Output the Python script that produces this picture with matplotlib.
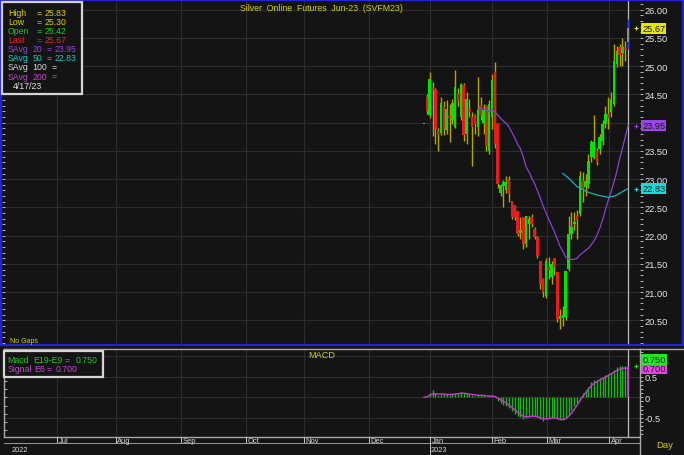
import matplotlib
matplotlib.use("Agg")
import matplotlib.pyplot as plt
from matplotlib.patches import Rectangle
from matplotlib.ticker import MultipleLocator, FixedLocator, FuncFormatter
import matplotlib.transforms as mtransforms

plt.rcParams['font.family'] = ['Liberation Sans', 'DejaVu Sans']

# ---------------- data ----------------
opens = [23.97, 24.45, 24.13, 24.62, 24.60, 23.85, 23.82, 24.27, 23.87, 24.12,
         24.04, 23.93, 24.50, 24.10, 24.67, 23.80, 24.25, 24.10, 24.13, 23.92,
         24.30, 24.00, 24.30, 23.50, 24.10, 24.90, 23.98, 22.75, 22.88, 22.80,
         22.98, 22.62, 22.55, 22.44, 22.05, 22.33, 21.85, 22.20, 22.33, 22.12,
         21.98, 21.56, 21.23, 20.94, 21.45, 21.27, 21.60, 21.36, 20.53, 20.55,
         20.56, 21.41, 22.03, 22.20, 22.35, 22.38, 22.97, 22.86, 22.91, 23.39,
         23.37, 23.50, 23.53, 23.68, 23.97, 24.15, 24.19, 24.33, 25.04, 25.34,
         25.23, 25.32, 25.42]
highs = [23.97, 24.50, 24.89, 24.72, 24.62, 23.90, 24.46, 24.38, 24.40, 24.33,
         24.42, 24.94, 24.62, 24.70, 24.70, 24.55, 24.42, 24.19, 24.16, 24.81,
         24.45, 24.33, 24.32, 24.40, 24.86, 25.07, 24.00, 22.91, 22.99, 23.05,
         23.05, 22.62, 22.55, 22.44, 22.33, 22.33, 22.35, 22.35, 22.38, 22.15,
         22.00, 21.56, 21.25, 21.60, 21.62, 21.55, 21.60, 21.36, 20.70, 20.75,
         21.38, 22.35, 22.42, 22.42, 22.45, 23.15, 23.12, 23.10, 23.45, 23.70,
         24.13, 23.55, 23.80, 24.05, 24.30, 24.45, 24.55, 25.39, 25.36, 25.40,
         25.50, 25.45, 25.83]
lows = [23.97, 24.15, 24.08, 23.76, 23.62, 23.50, 23.78, 23.78, 23.80, 23.66,
        23.98, 23.90, 24.30, 24.05, 23.68, 23.62, 24.10, 23.23, 23.80, 23.76,
        24.05, 23.80, 23.50, 23.45, 23.89, 23.55, 22.85, 22.71, 22.50, 22.75,
        22.60, 22.30, 22.27, 21.99, 21.95, 21.76, 21.80, 21.95, 22.15, 21.95,
        21.60, 21.05, 20.91, 20.90, 21.23, 21.15, 21.30, 20.47, 20.35, 20.40,
        20.50, 21.38, 21.95, 22.10, 21.94, 22.35, 22.60, 22.70, 22.85, 23.30,
        23.35, 23.25, 23.45, 23.60, 23.90, 23.89, 24.10, 24.30, 24.98, 25.00,
        25.00, 25.10, 25.30]
closes = [23.97, 24.20, 24.77, 24.58, 23.89, 23.80, 24.35, 23.89, 24.25, 24.08,
          24.35, 24.63, 24.38, 24.68, 23.78, 24.42, 24.20, 23.93, 23.98, 24.22,
          24.13, 24.22, 23.59, 24.33, 24.75, 23.62, 22.91, 22.90, 22.95, 22.95,
          22.74, 22.33, 22.33, 22.03, 22.10, 21.86, 22.35, 22.30, 22.20, 21.98,
          21.64, 21.14, 21.00, 21.56, 21.40, 21.50, 21.45, 20.53, 20.58, 20.60,
          21.38, 22.03, 22.15, 22.25, 22.27, 23.06, 22.80, 22.97, 23.33, 23.66,
          23.66, 23.30, 23.75, 23.98, 24.15, 24.09, 24.42, 25.10, 25.27, 25.19,
          25.34, 25.30, 25.67]

sma20_start = 19
sma20 = [24.24, 24.25, 24.25, 24.22, 24.20, 24.22, 24.19, 24.14, 24.08, 24.03,
         23.99, 23.92, 23.83, 23.73, 23.62, 23.54, 23.40, 23.22, 23.13, 23.02,
         22.92, 22.80, 22.67, 22.53, 22.41, 22.29, 22.18, 22.07, 21.94, 21.81,
         21.72, 21.62, 21.59, 21.58, 21.58, 21.60, 21.66, 21.70, 21.74, 21.78,
         21.84, 21.91, 22.01, 22.13, 22.28, 22.46, 22.63, 22.78, 22.95, 23.13,
         23.36, 23.55, 23.75, 23.95]
sma50_start = 49
sma50 = [23.10, 23.06, 23.02, 22.97, 22.92, 22.87, 22.84, 22.82, 22.79, 22.77,
         22.75, 22.74, 22.72, 22.71, 22.70, 22.69, 22.68, 22.69, 22.70, 22.72,
         22.75, 22.78, 22.81, 22.83]

macd = [0.00, 0.02, 0.10, 0.17, 0.10, 0.06, 0.09, 0.07, 0.08, 0.06,
        0.08, 0.10, 0.10, 0.13, 0.10, 0.10, 0.08, 0.05, 0.04, 0.05,
        0.06, 0.05, 0.01, 0.02, 0.05, 0.02, -0.10, -0.15, -0.18, -0.22,
        -0.27, -0.34, -0.40, -0.46, -0.48, -0.52, -0.50, -0.48, -0.46, -0.46,
        -0.48, -0.53, -0.57, -0.52, -0.50, -0.50, -0.48, -0.52, -0.55, -0.55,
        -0.50, -0.42, -0.32, -0.22, -0.15, -0.02, 0.10, 0.18, 0.26, 0.38,
        0.42, 0.42, 0.46, 0.50, 0.53, 0.56, 0.60, 0.66, 0.73, 0.76,
        0.77, 0.77, 0.75]
signal = [0.00, 0.01, 0.05, 0.08, 0.08, 0.08, 0.08, 0.08, 0.07, 0.07,
          0.07, 0.08, 0.09, 0.10, 0.10, 0.09, 0.08, 0.07, 0.06, 0.05,
          0.05, 0.05, 0.03, 0.03, 0.03, 0.02, -0.02, -0.06, -0.10, -0.14,
          -0.19, -0.24, -0.30, -0.36, -0.41, -0.46, -0.47, -0.47, -0.46, -0.46,
          -0.47, -0.50, -0.52, -0.52, -0.52, -0.51, -0.50, -0.51, -0.53, -0.54,
          -0.52, -0.46, -0.39, -0.29, -0.19, -0.08, 0.02, 0.11, 0.20, 0.28,
          0.34, 0.38, 0.42, 0.46, 0.49, 0.53, 0.57, 0.61, 0.65, 0.68,
          0.70, 0.71, 0.70]

month_labels = ["Jul", "Aug", "Sep", "Oct", "Nov", "Dec", "Jan", "Feb", "Mar", "Apr"]
month_ticks = [-129.5, -108.8, -85.6, -62.9, -42.3, -19.5, 2.1, 23.9, 43.3, 65.4]
year_labels = ["2022", "2023"]
last_date = "4/17/23"
title = "Silver  Online  Futures  Jun-23  (SVFM23)"

# ---------------- style / layout ----------------
W, H = 684, 456
BG = '#141414'
GRID = '#2c2c2c'
WICK = '#b4a400'
UP = '#00e400'
DN = '#e81c1c'
PURPLE = '#8d3fd6'
CYAN = '#16b4b4'
MAG = '#c43cd0'
YEL = '#d2d200'
TXT = '#e6e6e6'
X0, DX = 424.0, 2.835
FS = 6.3


def xl(l, r):
    return ((l - X0) / DX, (r - X0) / DX)


def rect(l, t, r, b):
    return [l / W, 1 - b / H, (r - l) / W, (b - t) / H]


def left_ticks(ax, step):
    tw = ax.twinx()
    tw.set_ylim(ax.get_ylim())
    tw.yaxis.tick_left()
    tw.yaxis.set_major_locator(MultipleLocator(step))
    tw.tick_params(axis='y', direction='in', length=2.5, width=0.6, color='#cfcfcf',
                   labelleft=False, labelright=False)
    tw.patch.set_visible(False)
    for s in tw.spines.values():
        s.set_visible(False)
    return tw


def right_axis(ax, major, minor, fmt):
    ax.yaxis.tick_right()
    ax.yaxis.set_major_locator(major)
    ax.yaxis.set_minor_locator(minor)
    ax.yaxis.set_major_formatter(FuncFormatter(fmt))
    ax.tick_params(axis='y', which='both', direction='out', length=2.2, width=0.6,
                   color='#d0d0d0', labelsize=6.7, labelcolor=TXT, pad=1,
                   left=False, labelleft=False, right=True, labelright=True)


fig = plt.figure(figsize=(W / 100, H / 100), dpi=100, facecolor=BG)
n = len(opens)
idx = list(range(n))
box_vals = [closes[-1], sma20[-1], sma50[-1]]

# ---------------- price panel ----------------
ax1 = fig.add_axes(rect(2, 2, 640, 345), facecolor=BG)
ax1.set_xlim(*xl(2, 640))
ax1.set_ylim(20.083, 26.154)
left_ticks(ax1, 0.1)
for s in ax1.spines.values():
    s.set_visible(False)
ax1.set_xticks(month_ticks)
ax1.tick_params(axis='x', length=0, labelbottom=False)


def price_fmt(v, _):
    # a value box sitting on a tick level hides that tick's label
    if any(abs(v - b) < 0.09 for b in box_vals):
        return ''
    return f"{v:.2f}"


right_axis(ax1, MultipleLocator(0.5), MultipleLocator(0.1), price_fmt)
ax1.grid(True, which='major', color=GRID, lw=0.8)
ax1.set_axisbelow(True)

ax1.axvline(n - 1, color='#bdbdbd', lw=0.9, zorder=2.6)

for i in idx:
    last = (i == n - 1)
    ax1.vlines(i, lows[i], highs[i], color=('#2a3cff' if last else WICK), lw=1.0, zorder=3)
    lo, hi = min(opens[i], closes[i]), max(opens[i], closes[i])
    if last:
        col = '#8c8c8c'
    elif closes[i] > opens[i]:
        col = UP
    elif closes[i] < opens[i]:
        col = DN
    else:
        col = WICK
    ax1.add_patch(Rectangle((i - 0.45, lo), 0.9, max(hi - lo, 0.018),
                            facecolor=col, edgecolor='none', zorder=4))

ax1.plot(range(sma20_start, sma20_start + len(sma20)), sma20, color=PURPLE, lw=0.9, zorder=5)
ax1.plot(range(sma50_start, sma50_start + len(sma50)), sma50, color=CYAN, lw=0.9, zorder=5)

ytr = ax1.get_yaxis_transform()
for val, bg in zip(box_vals, ['#e6e600', '#9848e0', '#10dede']):
    ax1.text(1.0035, val, f"{val:.2f}", transform=ytr, fontsize=6.7, color='#1a1a1a',
             ha='left', va='center', clip_on=False, zorder=20,
             bbox=dict(boxstyle='square,pad=0.12', facecolor=bg, edgecolor='none'))
    ax1.plot([n + 1.9], [val], marker='+', ms=3, mew=0.8, color=bg, clip_on=False, zorder=6)

# ---------------- MACD panel ----------------
ax2 = fig.add_axes(rect(4, 349.5, 640, 437.7), facecolor=BG)
ax2.set_xlim(*xl(4, 640))
ax2.set_ylim(-0.956, 1.184)
left_ticks(ax2, 0.2)
for s in ax2.spines.values():
    s.set_color('#a8a8a8')
    s.set_linewidth(1.0)
ax2.set_xticks(month_ticks)
ax2.tick_params(axis='x', length=0, labelbottom=False)
right_axis(ax2, FixedLocator([-0.5, 0, 0.5]), MultipleLocator(0.1),
           lambda v, _: '0' if abs(v) < 1e-9 else f"{v:g}")
ax2.grid(True, which='major', color=GRID, lw=0.8)
ax2.axhline(1.0, color=GRID, lw=0.8, zorder=0.5)
ax2.set_axisbelow(True)

ax2.axvline(n - 1, color='#bdbdbd', lw=0.9, zorder=2)
ax2.vlines(idx[:-1], 0, macd[:-1], color='#18b818', lw=1.0, zorder=3)
ax2.vlines(idx[-1], 0, macd[-1], color=MAG, lw=1.2, zorder=3)
ax2.plot(idx, signal, color=MAG, lw=1.0, zorder=4)

ytr2 = ax2.get_yaxis_transform()
ax2.text(1.0035, signal[-1], f"{signal[-1]:.3f}", transform=ytr2, fontsize=6.7,
         color='#3a103a', ha='left', va='center', clip_on=False, zorder=20,
         bbox=dict(boxstyle='square,pad=0.12', facecolor='#e246e2', edgecolor='none'))
up_tr = mtransforms.offset_copy(ytr2, fig=fig, x=0, y=9, units='dots')
ax2.text(1.0035, signal[-1], f"{macd[-1]:.3f}", transform=up_tr, fontsize=6.7,
         color='#0a300a', ha='left', va='center', clip_on=False, zorder=20,
         bbox=dict(boxstyle='square,pad=0.12', facecolor='#22e622', edgecolor='none'))
ax2.plot([n + 1.9], [macd[-1]], marker='+', ms=3, mew=0.8, color='#22e622', clip_on=False)

# ---------------- date strip ----------------
ax3 = fig.add_axes(rect(4, 437.7, 640, 456))
ax3.set_xlim(*xl(4, 640))
ax3.set_ylim(456, 437.7)
ax3.axis('off')
for pos, lab in zip(month_ticks, month_labels):
    ax3.plot([pos, pos], [437.7, 444.3], color='#c8c8c8', lw=0.7)
    ax3.text(pos + 0.6, 441.3, lab, fontsize=5.4, color='#d8d8d8', ha='left', va='center')
ax3.axhline(444.3, color='#9a9a9a', lw=0.7)
jan = month_ticks[month_labels.index("Jan")]
ax3.plot([jan, jan], [444.3, 456], color='#c8c8c8', lw=0.7)
ax3.text(jan + 0.3, 450.6, year_labels[1], fontsize=5.4, color='#d8d8d8', ha='left', va='center')

# ---------------- overlay (frames, legends, titles) ----------------
ov = fig.add_axes([0, 0, 1, 1], zorder=30)
ov.set_xlim(0, W)
ov.set_ylim(H, 0)
ov.axis('off')
ov.patch.set_visible(False)

ov.add_patch(Rectangle((1, 1), 682, 344.5, fill=False, edgecolor='#2323d8', lw=1.6))
ov.plot([640, 684], [349.5, 349.5], color='#a8a8a8', lw=1.0)
ov.plot([640, 640], [437.7, 456], color='#a8a8a8', lw=1.0)
ov.text(11.5, 450.3, year_labels[0], fontsize=5.4, color='#d8d8d8', ha='left', va='center')
ov.text(664.5, 445.5, "Day", fontsize=6.8, color=YEL, ha='center', va='center')

ov.text(321.5, 8.3, title, fontsize=6.3, color=YEL, ha='center', va='center')
ov.text(10, 341.2, "No Gaps", fontsize=5.0, color=YEL, ha='left', va='center')
ov.text(321.5, 355.5, "MACD", fontsize=6.6, color=YEL, ha='center', va='center')

# main legend box: (tokens with their x positions) per row
ov.add_patch(Rectangle((2.2, 3.3), 79.6, 91.2, facecolor=BG, edgecolor='#d6d6d6', lw=1.6))
rows = [
    ([("High", 8), ("=", 36.5), (f"{highs[-1]:.2f}", 45)], YEL),
    ([("Low", 8), ("=", 36.5), (f"{lows[-1]:.2f}", 45)], YEL),
    ([("Open", 8), ("=", 36.5), (f"{opens[-1]:.2f}", 45)], '#22c822'),
    ([("Last", 8), ("=", 36.5), (f"{closes[-1]:.2f}", 45)], '#e02a2a'),
    ([("SAvg", 8), ("20", 32.5), ("=", 47), (f"{sma20[-1]:.2f}", 55)], '#9644dc'),
    ([("SAvg", 8), ("50", 32.5), ("=", 47), (f"{sma50[-1]:.2f}", 55)], '#1cc8c8'),
    ([("SAvg", 8), ("100", 32.5), ("=", 51.5)], '#d4d4d4'),
    ([("SAvg", 8), ("200", 32.5), ("=", 51.5)], '#c444d0'),
    ([(last_date, 13)], TXT),
]
for k, (tokens, c) in enumerate(rows):
    y = 13.3 + k * 9.1
    for s, x in tokens:
        ov.text(x, y, s, fontsize=FS, color=c, ha='left', va='center')

# MACD legend box
ov.add_patch(Rectangle((3.6, 352.2), 99.4, 25.3, facecolor=BG, edgecolor='#d6d6d6', lw=1.6))
for s, x in [("Macd", 7.5), ("E19-E9", 33.3), ("=", 65), (f"{macd[-1]:.3f}", 76)]:
    ov.text(x, 360.4, s, fontsize=FS, color='#22c822', ha='left', va='center')
for s, x in [("Signal", 7.5), ("E6", 34), ("=", 47), (f"{signal[-1]:.3f}", 56)]:
    ov.text(x, 370.0, s, fontsize=FS, color='#c444d0', ha='left', va='center')

fig.savefig("out.png", dpi=100, facecolor=BG)
